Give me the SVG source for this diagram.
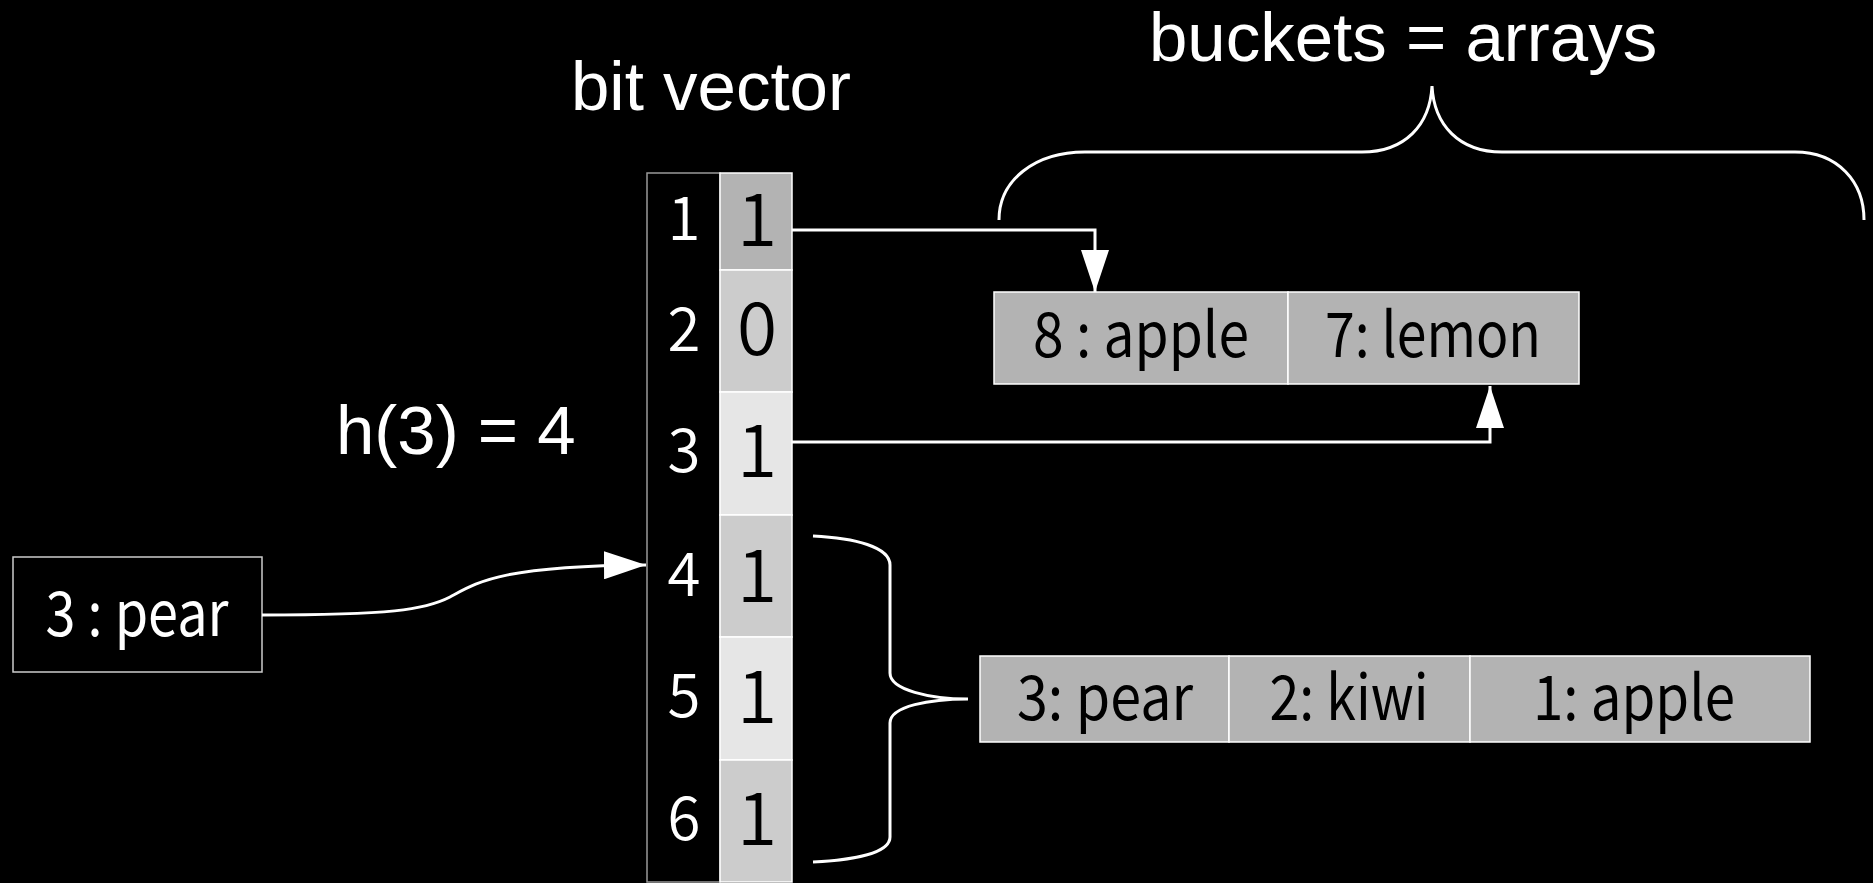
<svg xmlns="http://www.w3.org/2000/svg" width="1873" height="883" viewBox="0 0 1873 883">
<defs>
<style>
.title{font-family:"Liberation Sans",Arial,sans-serif;font-size:69px;fill:#fff}
.idx{font-family:"Noto Sans CJK JP","Noto Sans",sans-serif;font-size:60px;font-weight:350;fill:#fff;text-anchor:middle}
.val{font-family:"Noto Sans CJK JP","Noto Sans",sans-serif;font-size:73px;font-weight:350;fill:#000;text-anchor:middle}
.cell{stroke:#fff;stroke-width:1.5}
.bk{fill:#b3b3b3;stroke:#fff;stroke-width:1.5}
.bt{font-family:"Noto Sans CJK JP","Noto Sans",sans-serif;font-size:62px;font-weight:400;fill:#000;text-anchor:middle}
.wire{fill:none;stroke:#fff;stroke-width:3}
</style>
<marker id="ah" viewBox="0 0 42 28" refX="42" refY="14" markerWidth="42" markerHeight="28" markerUnits="userSpaceOnUse" orient="auto">
<path d="M0,0 L42,14 L0,28 Z" fill="#fff"/>
</marker>
</defs>
<rect x="0" y="0" width="1873" height="883" fill="#000"/>

<g id="labels">
<text class="title" x="571" y="110">bit vector</text>
<text class="title" x="1149" y="61">buckets = arrays</text>
<text class="title" x="336" y="454">h(3) = 4</text>
</g>

<g id="bitvector">
<rect x="647" y="173" width="73" height="709" fill="#000" stroke="#999" stroke-width="1.5"/>
<rect class="cell" x="720" y="173" width="72" height="97" fill="#b3b3b3"/>
<rect class="cell" x="720" y="270" width="72" height="122" fill="#cccccc"/>
<rect class="cell" x="720" y="392" width="72" height="123" fill="#e6e6e6"/>
<rect class="cell" x="720" y="515" width="72" height="122" fill="#cccccc"/>
<rect class="cell" x="720" y="637" width="72" height="123" fill="#e6e6e6"/>
<rect class="cell" x="720" y="760" width="72" height="122" fill="#cccccc"/>
<text class="idx" x="684" y="240">1</text>
<text class="idx" x="684" y="351">2</text>
<text class="idx" x="684" y="472">3</text>
<text class="idx" x="684" y="596">4</text>
<text class="idx" x="684" y="717">5</text>
<text class="idx" x="684" y="840">6</text>
<text class="val" x="757" y="246">1</text>
<text class="val" x="757" y="355">0</text>
<text class="val" x="757" y="477">1</text>
<text class="val" x="757" y="602">1</text>
<text class="val" x="757" y="723">1</text>
<text class="val" x="757" y="845">1</text>
</g>

<g id="key-pear">
<rect x="13" y="557" width="249" height="115" fill="#000" stroke="#ccc" stroke-width="1.5"/>
<text x="137" y="636" font-family="Noto Sans CJK JP, Noto Sans, sans-serif" font-size="62" font-weight="400" fill="#fff" text-anchor="middle" textLength="183" lengthAdjust="spacingAndGlyphs">3 : pear</text>
</g>

<g id="bucket-top">
<rect class="bk" x="994" y="292" width="294" height="92"/>
<rect class="bk" x="1288" y="292" width="291" height="92"/>
<text class="bt" x="1141" y="357" textLength="216" lengthAdjust="spacingAndGlyphs">8 : apple</text>
<text class="bt" x="1433" y="357" textLength="216" lengthAdjust="spacingAndGlyphs">7: lemon</text>
</g>

<g id="bucket-bottom">
<rect class="bk" x="980" y="656" width="249" height="86"/>
<rect class="bk" x="1229" y="656" width="241" height="86"/>
<rect class="bk" x="1470" y="656" width="340" height="86"/>
<text class="bt" x="1105" y="720" textLength="176" lengthAdjust="spacingAndGlyphs">3: pear</text>
<text class="bt" x="1349" y="720" textLength="159" lengthAdjust="spacingAndGlyphs">2: kiwi</text>
<text class="bt" x="1634" y="720" textLength="202" lengthAdjust="spacingAndGlyphs">1: apple</text>
</g>

<g id="connectors">
<path class="wire" d="M792,230 H1095 V292" marker-end="url(#ah)"/>
<path class="wire" d="M792,442 H1490 V386" marker-end="url(#ah)"/>
<path class="wire" d="M262,615 C390,615 425,610 450,597 C478,582 500,566 646,565" marker-end="url(#ah)"/>
<path class="wire" d="M813,536 C855,538 890,547 890,565 L890,673 C890,690 930,699 968,699 C930,699 890,706 890,723 L890,837 C890,853 855,860 813,862"/>
<path class="wire" d="M999,220 C999,180 1035,152 1085,152 L1362,152 C1405,152 1430,125 1432,86 C1434,125 1459,152 1502,152 L1795,152 C1838,152 1864,182 1864,220"/>
</g>
</svg>
